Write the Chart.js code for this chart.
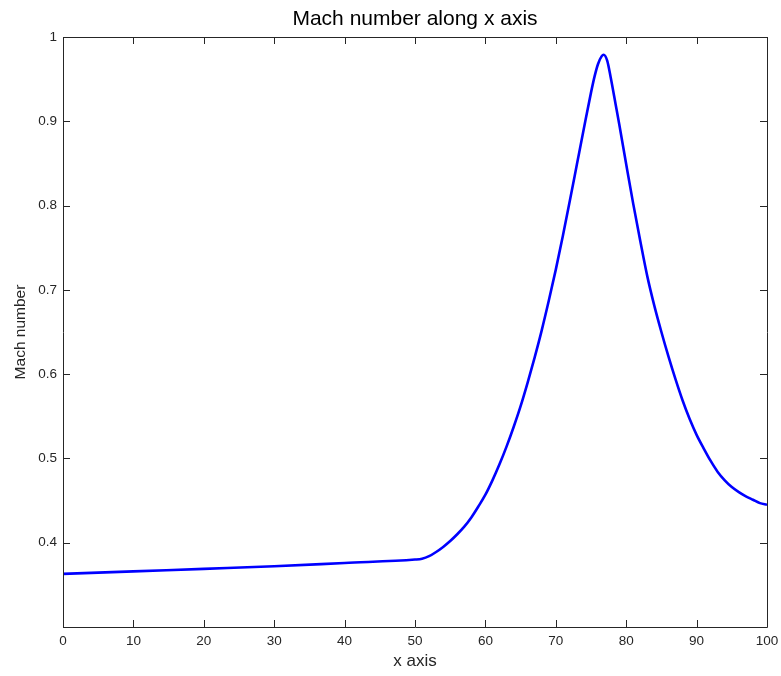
<!DOCTYPE html>
<html>
<head>
<meta charset="utf-8">
<script src="https://cdn.jsdelivr.net/npm/chart.js@4/dist/chart.umd.min.js"></script>
<style>
html,body{margin:0;padding:0;background:#fff;}
canvas{display:block;}
</style>
</head>
<body>
<canvas id="c" width="781" height="676"></canvas>
<script>
const titleText = "Mach number along x axis";
const xLabel = "x axis";
const yLabel = "Mach number";
const xPositions = [0, 10, 20, 30, 40, 50, 51, 52, 53, 54, 55, 56, 57, 58, 59, 60, 61, 62, 63, 64, 65, 66, 67, 68, 69, 70, 71, 72, 73, 74, 75, 75.5, 76, 76.5, 76.8, 77.3, 77.8, 78.5, 79, 80, 81, 82, 83, 84, 85, 86, 87, 88, 89, 90, 91, 92, 93, 94, 95, 96, 97, 98, 99, 100];
const machValues = [0.363, 0.366, 0.369, 0.372, 0.376, 0.380, 0.381, 0.384, 0.389, 0.395, 0.402, 0.410, 0.419, 0.430, 0.443, 0.457, 0.474, 0.493, 0.514, 0.537, 0.562, 0.590, 0.620, 0.652, 0.687, 0.724, 0.764, 0.806, 0.849, 0.892, 0.934, 0.953, 0.968, 0.977, 0.979, 0.972, 0.952, 0.920, 0.897, 0.849, 0.802, 0.758, 0.716, 0.681, 0.650, 0.621, 0.594, 0.569, 0.547, 0.528, 0.512, 0.497, 0.484, 0.474, 0.466, 0.460, 0.455, 0.451, 0.447, 0.445];
const xTickStep = 10;
const yTickStep = 0.1;

const points = xPositions.map((x, i) => ({x: x, y: machValues[i]}));

const fontFam = "'Liberation Sans', Arial, Helvetica, sans-serif";

const boxTicks = {
  id: 'boxTicks',
  afterDraw(chart) {
    const ctx = chart.ctx;
    const a = chart.chartArea;
    const len = 7;
    ctx.save();
    ctx.strokeStyle = '#262626';
    ctx.lineWidth = 1;
    ctx.beginPath();
    ctx.rect(Math.round(a.left) + 0.5, Math.round(a.top) + 0.5, Math.round(a.right - a.left), Math.round(a.bottom - a.top));
    const xs = chart.scales.x;
    xs.ticks.forEach(t => {
      const p = Math.round(xs.getPixelForValue(t.value)) + 0.5;
      ctx.moveTo(p, a.bottom); ctx.lineTo(p, a.bottom - len);
      ctx.moveTo(p, a.top); ctx.lineTo(p, a.top + len);
    });
    const ys = chart.scales.y;
    ys.ticks.forEach(t => {
      const p = Math.round(ys.getPixelForValue(t.value)) + 0.5;
      ctx.moveTo(a.left, p); ctx.lineTo(a.left + len, p);
      ctx.moveTo(a.right, p); ctx.lineTo(a.right - len, p);
    });
    ctx.stroke();
    // title centred over the plot box
    ctx.fillStyle = '#000';
    ctx.font = '21px ' + fontFam;
    ctx.textAlign = 'center';
    ctx.textBaseline = 'alphabetic';
    ctx.fillText(titleText, (a.left + a.right) / 2, 25);
    ctx.restore();
  }
};

new Chart(document.getElementById('c'), {
  type: 'scatter',
  data: {
    datasets: [{
      data: points,
      showLine: true,
      borderColor: '#0000ff',
      borderWidth: 2.6,
      pointRadius: 0,
      cubicInterpolationMode: 'monotone',
      fill: false
    }]
  },
  options: {
    responsive: false,
    animation: false,
    devicePixelRatio: 1,
    layout: {padding: {left: 0, right: 14, top: 37, bottom: 0}},
    plugins: {
      legend: {display: false},
      tooltip: {enabled: false},
      title: {display: false}
    },
    scales: {
      x: {
        type: 'linear',
        min: 0, max: 100,
        afterFit: s => { s.height = 49; s.paddingLeft = 0; s.paddingRight = 0; },
        grid: {display: false, drawTicks: false},
        border: {display: false},
        ticks: {
          stepSize: xTickStep,
          color: '#262626',
          padding: 6,
          maxRotation: 0,
          font: {family: fontFam, size: 13.5},
          callback: v => String(Math.round(v))
        },
        title: {
          display: true, text: xLabel, color: '#262626',
          font: {family: fontFam, size: 17},
          padding: {top: 0, bottom: 4}
        }
      },
      y: {
        type: 'linear',
        min: 0.3, max: 1,
        afterFit: s => { s.width = 63; s.paddingTop = 0; s.paddingBottom = 0; },
        grid: {display: false, drawTicks: false},
        border: {display: false},
        ticks: {
          stepSize: yTickStep,
          color: '#262626',
          padding: 6,
          font: {family: fontFam, size: 13.5},
          callback: v => { const r = Math.round(v * 10) / 10; return r < 0.35 ? '' : String(r); }
        },
        title: {
          display: true, text: yLabel, color: '#262626',
          font: {family: fontFam, size: 15.5},
          padding: {top: 11, bottom: 0}
        }
      }
    }
  },
  plugins: [boxTicks]
});
</script>
</body>
</html>
